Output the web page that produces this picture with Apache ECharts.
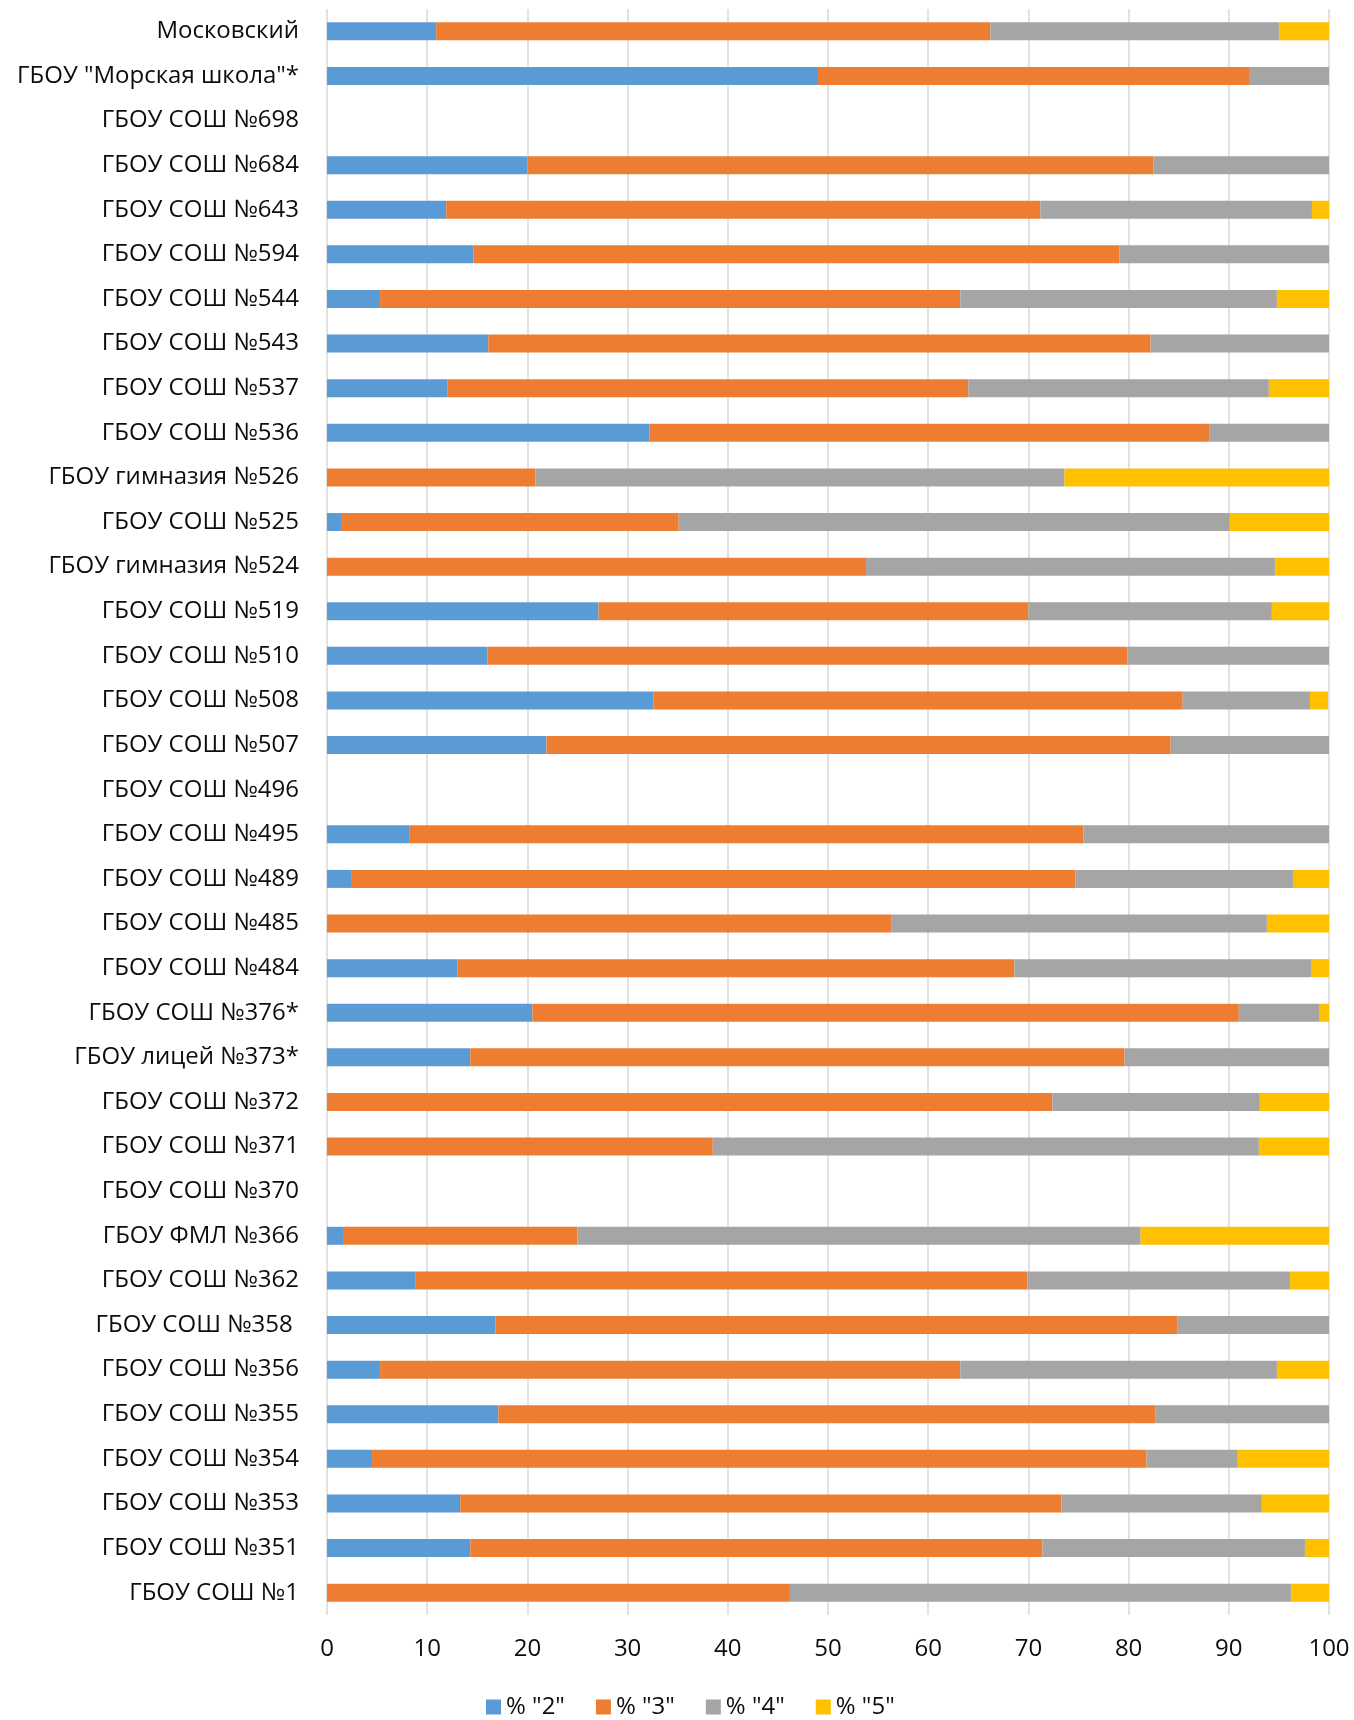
<!DOCTYPE html>
<html>
<head>
<meta charset="utf-8">
<script src="https://cdn.jsdelivr.net/npm/echarts@6/dist/echarts.min.js"></script>
<style>
html,body{margin:0;padding:0;background:#fff;}
#chart{width:1354px;height:1720px;}
</style>
</head>
<body>
<div id="chart"></div>
<script>
const categories = [
  'Московский', 'ГБОУ "Морская школа"*', 'ГБОУ СОШ №698', 'ГБОУ СОШ №684', 'ГБОУ СОШ №643',
  'ГБОУ СОШ №594', 'ГБОУ СОШ №544', 'ГБОУ СОШ №543', 'ГБОУ СОШ №537', 'ГБОУ СОШ №536',
  'ГБОУ гимназия №526', 'ГБОУ СОШ №525', 'ГБОУ гимназия №524', 'ГБОУ СОШ №519', 'ГБОУ СОШ №510',
  'ГБОУ СОШ №508', 'ГБОУ СОШ №507', 'ГБОУ СОШ №496', 'ГБОУ СОШ №495', 'ГБОУ СОШ №489',
  'ГБОУ СОШ №485', 'ГБОУ СОШ №484', 'ГБОУ СОШ №376*', 'ГБОУ лицей №373*', 'ГБОУ СОШ №372',
  'ГБОУ СОШ №371', 'ГБОУ СОШ №370', 'ГБОУ ФМЛ №366', 'ГБОУ СОШ №362', 'ГБОУ СОШ №358 ',
  'ГБОУ СОШ №356', 'ГБОУ СОШ №355', 'ГБОУ СОШ №354', 'ГБОУ СОШ №353', 'ГБОУ СОШ №351',
  'ГБОУ СОШ №1'
];
const seriesNames = ['% "2"', '% "3"', '% "4"', '% "5"'];
const pct2 = [10.9, 49.0, null, 20.0, 11.9, 14.6, 5.3, 16.1, 12.0, 32.2,
  0, 1.4, 0, 27.1, 16.0, 32.6, 21.9, null, 8.2, 2.4,
  0, 13.0, 20.5, 14.3, 0, 0, null, 1.6, 8.8, 16.8,
  5.3, 17.1, 4.5, 13.3, 14.3, 0];
const pct3 = [55.3, 43.1, null, 62.5, 59.3, 64.5, 57.9, 66.1, 52.0, 55.9,
  20.8, 33.7, 53.8, 42.9, 63.9, 52.8, 62.3, null, 67.3, 72.3,
  56.3, 55.6, 70.5, 65.3, 72.4, 38.5, null, 23.4, 61.1, 68.1,
  57.9, 65.6, 77.3, 60.0, 57.1, 46.2];
const pct4 = [28.8, 7.9, null, 17.5, 27.1, 20.9, 31.6, 17.8, 30.0, 11.9,
  52.8, 55.0, 40.8, 24.3, 20.1, 12.7, 15.8, null, 24.5, 21.7,
  37.5, 29.6, 8.0, 20.4, 20.7, 54.5, null, 56.2, 26.2, 15.1,
  31.6, 17.3, 9.1, 20.0, 26.2, 50.0];
const pct5 = [5.0, 0, null, 0, 1.7, 0, 5.2, 0, 6.0, 0,
  26.4, 9.9, 5.4, 5.7, 0, 1.8, 0, null, 0, 3.6,
  6.2, 1.8, 1.0, 0, 6.9, 7.0, null, 18.8, 3.9, 0,
  5.2, 0, 9.1, 6.7, 2.4, 3.8];
const xTicks = [0, 10, 20, 30, 40, 50, 60, 70, 80, 90, 100];

const colors = ['#5B9BD5', '#ED7D31', '#A5A5A5', '#FFC000'];
const values = [pct2, pct3, pct4, pct5];
const FONT = '"Open Sans", "Noto Sans", sans-serif';
const TEXT = '#0D0D0D';

const chart = echarts.init(document.getElementById('chart'), null, {renderer: 'canvas'});
chart.setOption({
  animation: false,
  color: colors,
  textStyle: {fontFamily: FONT},
  grid: {left: 327, right: 25, top: 9, bottom: 105, containLabel: false},
  legend: {
    top: 1695,
    left: 486,
    padding: 0,
    itemWidth: 15,
    itemHeight: 15,
    itemGap: 31,
    icon: 'rect',
    textStyle: {fontFamily: FONT, fontSize: 24, color: TEXT},
    data: seriesNames
  },
  xAxis: {
    type: 'value',
    min: xTicks[0],
    max: xTicks[xTicks.length - 1],
    interval: 10,
    axisLine: {show: false},
    axisTick: {show: false},
    splitLine: {show: true, lineStyle: {color: '#D9D9D9', width: 1.5}},
    axisLabel: {fontFamily: FONT, fontSize: 24, color: TEXT, margin: 22}
  },
  yAxis: {
    type: 'category',
    inverse: true,
    data: categories,
    axisLine: {show: false},
    axisTick: {show: false},
    axisLabel: {fontFamily: FONT, fontSize: 24, color: TEXT, margin: 28}
  },
  series: seriesNames.map((name, i) => ({
    name: name,
    type: 'bar',
    stack: 'total',
    barWidth: 18,
    data: values[i],
    itemStyle: {color: colors[i]}
  }))
});
</script>
</body>
</html>
